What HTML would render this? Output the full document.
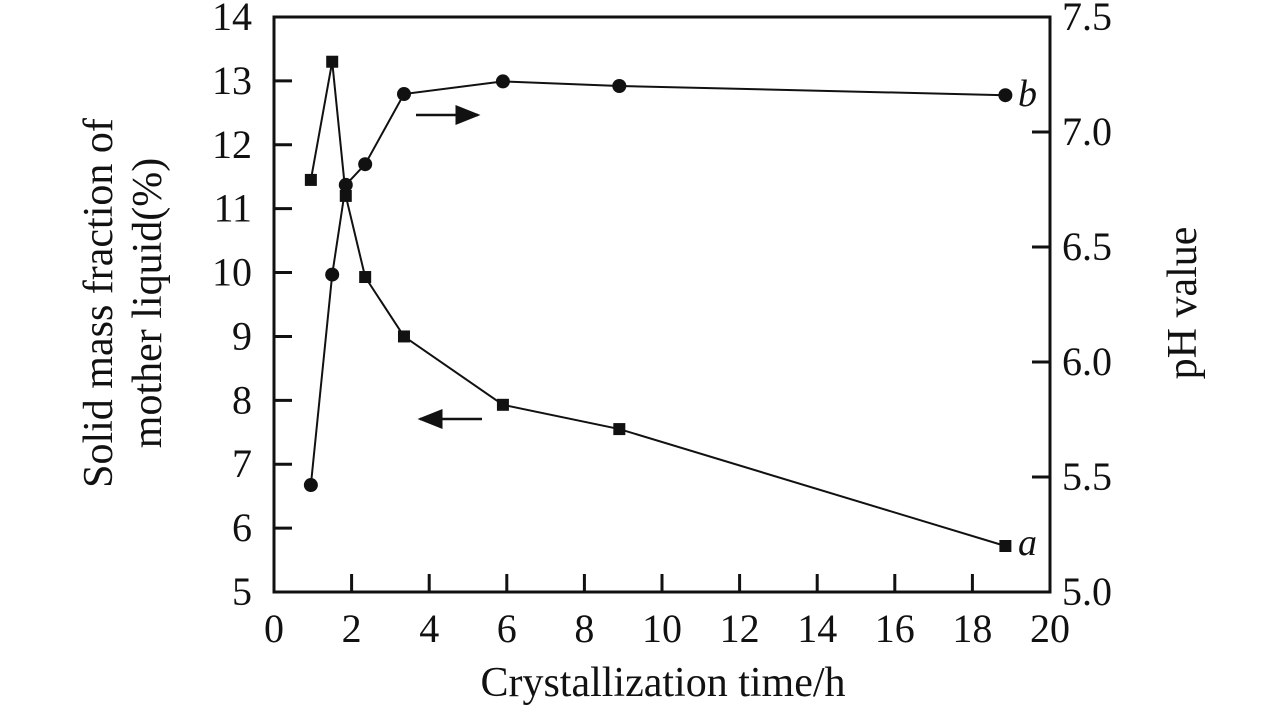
<!DOCTYPE html>
<html><head><meta charset="utf-8"><style>
body{margin:0;background:#fff}
svg text{font-family:"Liberation Serif",serif;fill:#111}
</style></head><body>
<svg id="c" width="1283" height="709"></svg>
<script>
const times=[0.95,1.5,1.85,2.35,3.35,5.9,8.9,18.85];
const solid=[11.45,13.3,11.2,9.93,9.0,7.93,7.55,5.72];
const ph=[5.465,6.38,6.77,6.86,7.165,7.22,7.2,7.16];
const xTicks=[0,2,4,6,8,10,12,14,16,18,20];
const yTicks=[5,6,7,8,9,10,11,12,13,14];
const y2Ticks=["5.0","5.5","6.0","6.5","7.0","7.5"];
const X0=274,X1=1050,T=17,B=592;
const sx=v=>X0+(X1-X0)*v/20;
const sy=v=>B-(B-T)*(v-5)/9;
const sy2=v=>B-(B-T)*(v-5)/2.5;
const svg=document.getElementById('c');
const NS='http://www.w3.org/2000/svg';
function mk(t,a,p){const e=document.createElementNS(NS,t);for(const k in a)e.setAttribute(k,a[k]);(p||svg).appendChild(e);return e;}
let e;
e=mk('rect',{x:X0,y:T,width:X1-X0,height:B-T,fill:'none',stroke:'#111','stroke-width':3});


xTicks.forEach(v=>{
 e=mk('line',{x1:sx(v),x2:sx(v),y1:B,y2:B-18,stroke:'#111','stroke-width':3});
 
 
 e=mk('text',{x:sx(v),y:B+50,'text-anchor':'middle','font-size':40});e.textContent=v;
 
 
});
yTicks.forEach(v=>{
 e=mk('line',{x1:X0,x2:X0+18,y1:sy(v),y2:sy(v),stroke:'#111','stroke-width':3});
 
 
 e=mk('text',{x:X0-22,y:sy(v)+13,'text-anchor':'end','font-size':40});e.textContent=v;
 
 
});
y2Ticks.forEach(s=>{const v=+s;
 e=mk('line',{x1:X1,x2:X1-18,y1:sy2(v),y2:sy2(v),stroke:'#111','stroke-width':3});
 
 
 e=mk('text',{x:X1+12,y:sy2(v)+13,'text-anchor':'start','font-size':40});e.textContent=s;
 
 
});
e=mk('polyline',{points:times.map((t,i)=>sx(t)+','+sy(solid[i])).join(' '),fill:'none',stroke:'#111','stroke-width':2});


e=mk('polyline',{points:times.map((t,i)=>sx(t)+','+sy2(ph[i])).join(' '),fill:'none',stroke:'#111','stroke-width':2});


times.forEach((t,i)=>{
 e=mk('rect',{x:sx(t)-6,y:sy(solid[i])-6,width:12,height:12,fill:'#111'});
 
 
 e=mk('circle',{cx:sx(t),cy:sy2(ph[i]),r:7,fill:'#111'});
 
 
});
</script>
<svg width="1283" height="709" style="position:absolute;left:0;top:0">
<defs><marker id="ah" markerWidth="10" markerHeight="8" refX="9" refY="4" orient="auto"><path d="M0,0 L10,4 L0,8 Z" fill="#111"/></marker></defs>
<line x1="416" y1="115" x2="478" y2="115" stroke="#111" stroke-width="2.5" marker-end="url(#ah)"/>
<line x1="482" y1="419" x2="420" y2="419" stroke="#111" stroke-width="2.5" marker-end="url(#ah)"/>
<text x="1018" y="555" font-size="38" font-style="italic">a</text>
<text x="1018" y="106" font-size="38" font-style="italic">b</text>
<text x="663" y="696" font-size="42" text-anchor="middle">Crystallization time/h</text>
<text transform="translate(112,303) rotate(-90)" font-size="42" text-anchor="middle">Solid mass fraction of</text>
<text transform="translate(161,303) rotate(-90)" font-size="42" text-anchor="middle">mother liquid(%)</text>
<text transform="translate(1196,303) rotate(-90)" font-size="42" text-anchor="middle">pH value</text>
</svg>
</body></html>
